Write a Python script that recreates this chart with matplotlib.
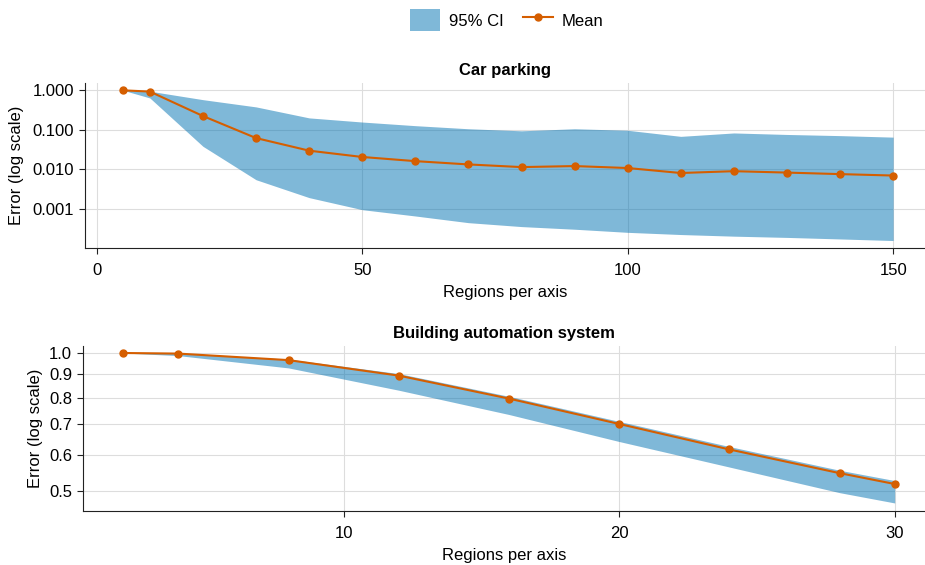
import numpy as np
import matplotlib.pyplot as plt
from matplotlib.ticker import FixedLocator, FixedFormatter, NullLocator
from matplotlib.patches import Patch
from matplotlib.lines import Line2D

plt.rcParams["font.family"] = ["Liberation Sans", "DejaVu Sans"]
plt.rcParams["font.size"] = 12

# --- Car parking ---
car_x = [5, 10, 20, 30, 40, 50, 60, 70, 80, 90, 100, 110, 120, 130, 140, 150]
car_mean = [1.0, 0.93, 0.223, 0.0616, 0.0295, 0.0204, 0.016, 0.0132, 0.0113,
            0.0120, 0.0107, 0.0080, 0.0089, 0.0082, 0.0075, 0.0069]
car_hi = [1.0, 0.95, 0.58, 0.38, 0.20, 0.157, 0.127, 0.106, 0.094,
          0.106, 0.097, 0.068, 0.083, 0.076, 0.071, 0.065]
car_lo = [1.0, 0.64, 0.038, 0.0054, 0.0019, 0.00094, 0.00065, 0.00044, 0.00035,
          0.00030, 0.00025, 0.00022, 0.00020, 0.000186, 0.00017, 0.000155]

# --- Building automation system ---
bas_x = [2, 4, 8, 12, 16, 20, 24, 28, 30]
bas_mean = [1.0, 0.997, 0.965, 0.893, 0.796, 0.701, 0.617, 0.548, 0.519]
bas_hi = [1.0, 0.998, 0.97, 0.902, 0.805, 0.710, 0.626, 0.556, 0.528]
bas_lo = [1.0, 0.987, 0.928, 0.830, 0.735, 0.642, 0.565, 0.497, 0.472]

ci_color = "#0072B2"
mean_color = "#D55E00"

fig = plt.figure(figsize=(9.25, 5.65), dpi=100)
ax1 = fig.add_axes([0.092, 0.561, 0.908, 0.292])
ax2 = fig.add_axes([0.090, 0.0956, 0.910, 0.292])


def draw(ax, x, mean, lo, hi, title, ylabelpad):
    ax.fill_between(x, lo, hi, color=ci_color, alpha=0.5, linewidth=0)
    ax.plot(x, mean, color=mean_color, marker="o", markersize=5, linewidth=1.5)
    ax.set_yscale("log")
    ax.set_title(title, fontweight="bold", fontsize=12, pad=6)
    ax.set_xlabel("Regions per axis", labelpad=5)
    ax.set_ylabel("Error (log scale)", labelpad=ylabelpad)
    ax.grid(True, color="#dddddd", linewidth=0.8)
    ax.set_axisbelow(True)
    for s in ["top", "right"]:
        ax.spines[s].set_visible(False)
    for s in ["left", "bottom"]:
        ax.spines[s].set_color("#222222")
    ax.tick_params(axis="x", length=4.5, width=0.8, pad=6, color="#222222")
    ax.tick_params(axis="y", length=4.5, width=0.8, pad=3.5, color="#222222")
    ax.yaxis.set_minor_locator(NullLocator())


draw(ax1, car_x, car_mean, car_lo, car_hi, "Car parking", 6)
ax1.set_xlim(-2.2, 156)
ax1.set_ylim(1e-4, 1.53)
ax1.set_xticks([0, 50, 100, 150])
ytk1 = [0.001, 0.01, 0.1, 1.0]
ax1.yaxis.set_major_locator(FixedLocator(ytk1))
ax1.yaxis.set_major_formatter(FixedFormatter(["%.3f" % v for v in ytk1]))

draw(ax2, bas_x, bas_mean, bas_lo, bas_hi, "Building automation system", 4)
ax2.set_xlim(0.55, 31.1)
ax2.set_ylim(0.4534, 1.0356)
ax2.set_xticks([10, 20, 30])
ytk2 = [0.5, 0.6, 0.7, 0.8, 0.9, 1.0]
ax2.yaxis.set_major_locator(FixedLocator(ytk2))
ax2.yaxis.set_major_formatter(FixedFormatter(["%.1f" % v for v in ytk2]))

handles = [Patch(facecolor=ci_color, alpha=0.5, label="95% CI"),
           Line2D([], [], color=mean_color, marker="o", markersize=5,
                  linewidth=1.5, label="Mean")]
fig.legend(handles=handles, loc="upper center", bbox_to_anchor=(0.548, 1.01),
           ncol=2, frameon=False, handlelength=1.8, columnspacing=1.2,
           handleheight=1.6, handletextpad=0.5)

fig.savefig("out.png", dpi=100)
